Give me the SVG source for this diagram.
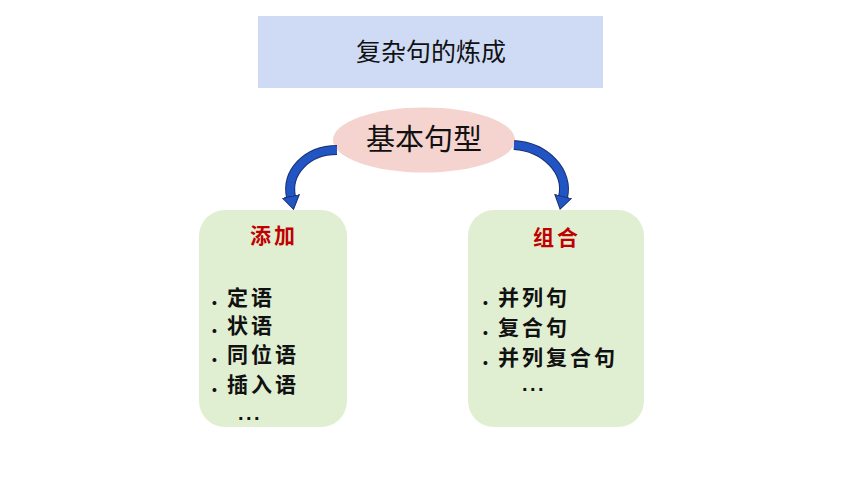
<svg xmlns="http://www.w3.org/2000/svg" width="860" height="484" viewBox="0 0 860 484">
<style>
text{font-family:"Noto Sans CJK SC","Noto Sans",sans-serif;}
.title{font-size:25px;fill:#111;text-anchor:middle;}
.core{font-size:29px;fill:#111;text-anchor:middle;}
.head{font-size:21px;font-weight:bold;fill:#c00000;text-anchor:middle;letter-spacing:3px;}
.item{font-size:21px;font-weight:bold;fill:#111;letter-spacing:3px;}
.dots{font-family:"Liberation Sans",Arial,sans-serif;font-size:20px;font-weight:bold;fill:#111;letter-spacing:2.5px;}
.box{fill:#e0efd2;}
.band-o{fill:none;stroke:#1b2f70;stroke-width:10;}
.band{fill:none;stroke:#2155c4;stroke-width:8;}
</style>
<defs>
<marker id="ah" viewBox="0 0 14 18" refX="1" refY="9" markerWidth="14" markerHeight="18" markerUnits="userSpaceOnUse" orient="auto">
<path d="M0.5,0.5 L13.5,9 L0.5,17.5 z" fill="#2155c4" stroke="#1b2f70" stroke-width="1"/>
</marker>
</defs>
<rect width="860" height="484" fill="#ffffff"/>
<g id="title">
<rect x="258" y="16" width="345" height="72" fill="#cfdbf5"/>
<text class="title" x="431" y="61">复杂句的炼成</text>
</g>
<g id="core">
<ellipse cx="424" cy="140" rx="91" ry="32.5" fill="#f5d3cf"/>
<text class="core" x="424" y="150">基本句型</text>
</g>
<g id="add">
<rect class="box" x="199" y="210" width="148" height="217" rx="26" ry="26"/>
<text class="head" x="274" y="243">添加</text>
<text class="item" x="211" y="305">.<tspan x="227">定语</tspan></text>
<text class="item" x="211" y="333">.<tspan x="227">状语</tspan></text>
<text class="item" x="211" y="362">.<tspan x="227">同位语</tspan></text>
<text class="item" x="211" y="392">.<tspan x="227">插入语</tspan></text>
<text class="dots" x="238" y="420">...</text>
</g>
<g id="combine">
<rect class="box" x="468" y="210" width="176" height="217" rx="26" ry="26"/>
<text class="head" x="557" y="245">组合</text>
<text class="item" x="482" y="305">.<tspan x="498">并列句</tspan></text>
<text class="item" x="482" y="335">.<tspan x="498">复合句</tspan></text>
<text class="item" x="482" y="365">.<tspan x="498">并列复合句</tspan></text>
<text class="dots" x="522" y="391">...</text>
</g>
<g id="connectors">
<path class="band-o" d="M337 150 C306 150 286 173 291 197"/>
<path class="band" d="M337 150 C306 150 286 173 291 197" marker-end="url(#ah)"/>
<path class="band-o" d="M514 145 C546 147 569 172 563 197"/>
<path class="band" d="M514 145 C546 147 569 172 563 197" marker-end="url(#ah)"/>
</g>
</svg>
